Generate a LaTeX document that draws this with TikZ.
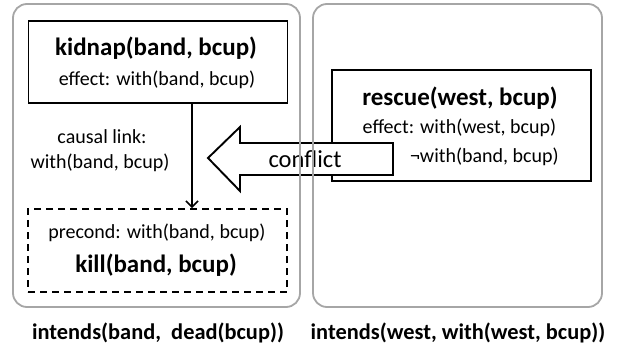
\documentclass[tikz,border=0pt]{standalone}
\usepackage{fontspec}
\setmainfont{Carlito}
\usetikzlibrary{arrows.meta}
\definecolor{framegray}{HTML}{A6A6A6}
\tikzset{
  agentbox/.style={draw=framegray, line width=1.8pt, rounded corners=14pt, minimum width=#1, minimum height=303pt, inner sep=0pt},
  stepbox/.style={draw=black, line width=1.9pt, minimum width=259pt, minimum height=#1, inner sep=0pt, fill=white},
  title/.style={font=\fontsize{25}{29}\selectfont\bfseries, inner sep=0pt},
  body/.style={font=\fontsize{20}{24}\selectfont, inner sep=0pt},
  goal/.style={font=\fontsize{22.4}{26}\selectfont\bfseries, inner sep=0pt},
}
\begin{document}
\begin{tikzpicture}[x=1pt,y=1pt]
\useasboundingbox (0,0) rectangle (618,351);
\node[stepbox=82pt] (kidnap) at (158,289) {};
\node[stepbox=83pt, dashed, dash pattern=on 7pt off 5pt] (kill) at (157.5,100.5) {};
\node[stepbox=111pt] (rescue) at (461.5,225.5) {};
\node[title] (kidnapT) at (156,303) {kidnap(band, bcup)};
\node[body] (kidnapE) at (157,271) {effect: with(band, bcup)};
\node[body] (cl1) at (102,214) {causal link:};
\node[body] (cl2) at (100,188) {with(band, bcup)};
\node[body] (killP) at (157,118) {precond: with(band, bcup)};
\node[title] (killT) at (156,86) {kill(band, bcup)};
\node[title] (rescueT) at (460,253) {rescue(west, bcup)};
\node[body] (rescueE) at (459.5,223) {effect: with(west, bcup)};
\node[body, anchor=east] (rescueN) at (559,194) {¬with(band, bcup)};
\coordinate (ktop) at (192,0);
\draw[line width=1.5pt, -{Straight Barb[length=6pt,width=12pt,line width=1.5pt]}] (kidnap.south -| ktop) -- (kill.north -| ktop);
\draw[line width=1.9pt, fill=white, line join=miter]
  (208,193) -- (240,224) -- (240,208) -- (393,208) -- (393,176) -- (240,176) -- (240,160) -- cycle;
\node[body, font=\fontsize{24.5}{28}\selectfont] (conflict) at (305,192) {conflict};
\node[agentbox=287pt] (leftagent) at (156.5,195.5) {};
\node[agentbox=289pt] (rightagent) at (457.5,195.5) {};
\node[goal] (goalL) at (158,18) {intends(band,\ \ dead(bcup))};
\node[goal] (goalR) at (458,18) {intends(west, with(west, bcup))};
\end{tikzpicture}
\end{document}
